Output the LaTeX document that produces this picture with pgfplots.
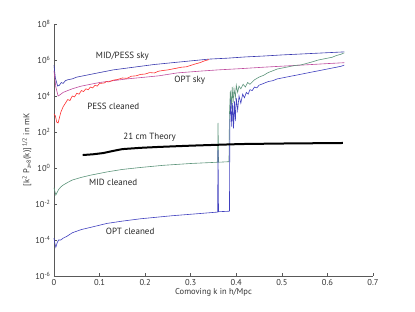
\documentclass[border=0pt]{standalone}
\usepackage{fontspec}
\setmainfont{PT Sans}
\usepackage{pgfplots}
\pgfplotsset{compat=1.18}
\definecolor{skyblue}{rgb}{0.22,0.22,0.68}
\definecolor{optsky}{rgb}{0.75,0.30,0.62}
\definecolor{pessred}{rgb}{1.0,0.18,0.18}
\definecolor{midgreen}{rgb}{0.36,0.58,0.48}
\definecolor{optblue}{rgb}{0.25,0.25,0.75}
\definecolor{axgray}{rgb}{0.35,0.35,0.35}
\begin{document}
\begin{tikzpicture}
\begin{axis}[
  name=ax, at={(0,0)}, anchor=south west,
  scale only axis, width=319pt, height=252pt,
  xmin=0, xmax=0.7, ymin=1e-6, ymax=1e8,
  ymode=log,
  axis x line*=bottom, axis y line*=left,
  axis line style={draw=axgray, line width=0.6pt, -},
  tick align=inside,
  tick style={draw=axgray, line width=0.6pt},
  major tick length=3pt,
  xtick={0,0.1,0.2,0.3,0.4,0.5,0.6,0.7},
  xticklabels={0,0.1,0.2,0.3,0.4,0.5,0.6,0.7},
  ytick={1e-6,1e-4,1e-2,1,1e2,1e4,1e6,1e8},
  yticklabels={10\textsuperscript{-6},10\textsuperscript{-4},10\textsuperscript{-2},10\textsuperscript{0},10\textsuperscript{2},10\textsuperscript{4},10\textsuperscript{6},10\textsuperscript{8}},
  minor y tick style={draw=none},
  ticklabel style={font=\fontsize{8.5}{10}\selectfont, text=black!80},
  xlabel={Comoving k in h/Mpc},
  ylabel={[k\textsuperscript{2} P\textsubscript{z=8}(k)]\textsuperscript{ 1/2} in mK},
  label style={font=\fontsize{8.5}{10}\selectfont, text=black!80},
  xlabel style={yshift=4pt},
  ylabel style={yshift=-3pt},
  clip=false,
]
% MID/PESS sky
\addplot[skyblue, line width=0.6pt] coordinates {
(0,5.01e5) (0.003,1e5) (0.008,3.55e4) (0.012,3.98e4) (0.016,5.62e4) (0.02,5.01e4)
(0.025,7.08e4) (0.03,7.94e4) (0.04,8.91e4) (0.05,1.12e5) (0.07,1.41e5) (0.1,2.0e5)
(0.13,2.82e5) (0.16,3.55e5) (0.19,4.47e5) (0.22,5.62e5) (0.26,7.08e5) (0.30,8.91e5)
(0.34,1.12e6) (0.38,1.26e6) (0.42,1.48e6) (0.46,1.66e6) (0.50,1.91e6) (0.54,2.14e6)
(0.58,2.40e6) (0.62,2.69e6) (0.637,2.82e6)};
% OPT sky
\addplot[optsky, line width=0.6pt] coordinates {
(0,2.51e5) (0.004,3.16e4) (0.009,1e4) (0.015,1.26e4) (0.02,1.58e4) (0.03,2.0e4)
(0.04,2.51e4) (0.06,3.55e4) (0.08,4.47e4) (0.1,5.62e4) (0.13,7.08e4) (0.16,8.91e4)
(0.19,1.05e5) (0.23,1.32e5) (0.27,1.91e5) (0.32,2.40e5) (0.36,2.82e5) (0.41,3.31e5)
(0.46,3.98e5) (0.51,4.68e5) (0.56,5.50e5) (0.60,6.31e5) (0.637,7.08e5)};
% PESS cleaned
\addplot[pessred, line width=0.6pt] coordinates {
(0,1000) (0.003,794) (0.006,355) (0.009,316) (0.012,631) (0.015,1259) (0.02,2512)
(0.025,3981) (0.03,6310) (0.035,5623) (0.04,1e4) (0.045,8913) (0.05,14125) (0.055,12589)
(0.06,19953) (0.065,17783) (0.07,25119) (0.075,22387) (0.08,31623) (0.085,28184)
(0.09,39811) (0.095,35481) (0.10,50119) (0.11,52481) (0.115,63096) (0.12,60256)
(0.13,75858) (0.14,83176) (0.15,1e5) (0.16,95499) (0.17,125893) (0.18,131826)
(0.19,158489) (0.20,165959) (0.21,199526) (0.22,190546) (0.23,239883) (0.24,263027)
(0.25,281838) (0.26,316228) (0.27,354813) (0.28,398107) (0.29,416869) (0.30,501187)
(0.31,602560) (0.32,707946) (0.33,891251) (0.34,1.05e6)};
% MID cleaned
\addplot[midgreen, line width=0.6pt] coordinates {
(0,0.0794) (0.002,0.0501) (0.004,0.0316) (0.007,0.0447) (0.01,0.0631) (0.015,0.0891)
(0.02,0.112) (0.03,0.158) (0.04,0.214) (0.06,0.302) (0.08,0.398) (0.116,0.603)
(0.15,0.832) (0.19,1.07) (0.24,1.41) (0.30,1.78) (0.359,2.09) (0.36,316) (0.361,2.09)
(0.384,2.24) (0.385,1000) (0.387,2e4) (0.389,2e3) (0.391,3.16e4) (0.393,3981)
(0.395,2.51e4) (0.398,7943) (0.40,3.98e4) (0.403,1.58e4) (0.406,3.55e4) (0.41,2.51e4)
(0.415,4.47e4) (0.42,3.16e4) (0.425,5.62e4) (0.43,4.47e4) (0.44,7.94e4) (0.45,1.12e5)
(0.46,1.41e5) (0.47,2.0e5) (0.48,2.51e5) (0.49,3.16e5) (0.50,3.55e5) (0.51,3.98e5)
(0.52,4.47e5) (0.53,5.01e5) (0.54,5.25e5) (0.55,6.03e5) (0.56,7.08e5) (0.57,8.32e5)
(0.58,1.0e6) (0.59,1.12e6) (0.60,1.26e6) (0.61,1.41e6) (0.62,1.78e6) (0.63,2.09e6)
(0.637,2.51e6)};
% OPT cleaned
\addplot[optblue, line width=0.6pt] coordinates {
(0,1.26e-4) (0.002,6.31e-5) (0.004,3.98e-5) (0.007,7.08e-5) (0.01,1e-4) (0.015,1e-4)
(0.02,1.26e-4) (0.028,1.58e-4) (0.04,2.51e-4) (0.06,3.80e-4) (0.08,5.01e-4)
(0.116,8.32e-4) (0.15,1.12e-3) (0.19,1.51e-3) (0.26,2.24e-3) (0.30,2.69e-3)
(0.359,3.55e-3) (0.36,10) (0.361,3.72e-3) (0.385,3.98e-3) (0.386,316) (0.388,6310)
(0.390,200) (0.392,3981) (0.394,158) (0.396,5012) (0.398,398) (0.400,7943) (0.403,1585)
(0.406,1e4) (0.41,3981) (0.414,1.26e4) (0.418,7943) (0.422,1.58e4) (0.426,1.26e4)
(0.43,2.24e4) (0.435,2.0e4) (0.44,3.16e4) (0.445,2.82e4) (0.45,3.98e4) (0.46,5.01e4)
(0.47,6.31e4) (0.48,7.08e4) (0.49,8.91e4) (0.50,1e5) (0.51,1.12e5) (0.52,1.26e5)
(0.53,1.41e5) (0.54,1.58e5) (0.55,1.78e5) (0.56,2.0e5) (0.57,2.24e5) (0.58,2.51e5)
(0.59,2.82e5) (0.60,3.16e5) (0.61,3.55e5) (0.62,3.98e5) (0.63,4.47e5) (0.637,5.25e5)};
% 21 cm theory
\addplot[black, line width=2pt] coordinates {
(0.063,5.25) (0.085,5.75) (0.108,6.76) (0.13,8.91) (0.15,11.2) (0.19,13.2) (0.23,14.8)
(0.3,17.4) (0.36,19.5) (0.41,21.4) (0.5,22.9) (0.634,24.5)};
\begin{scope}[every node/.style={font=\fontsize{9}{11}\selectfont, text=black!85}]
\node at (axis cs:0.15,1.6e6) {MID/PESS sky};
\node at (axis cs:0.298,8e4) {OPT sky};
\node at (axis cs:0.13,2.5e3) {PESS cleaned};
\node at (axis cs:0.21,52) {21 cm Theory};
\node at (axis cs:0.13,0.165) {MID cleaned};
\node at (axis cs:0.167,3.2e-4) {OPT cleaned};
\end{scope}
\end{axis}
\pgfresetboundingbox
\path[use as bounding box] (-54pt,-36pt) rectangle (361pt,276pt);
\end{tikzpicture}
\end{document}
